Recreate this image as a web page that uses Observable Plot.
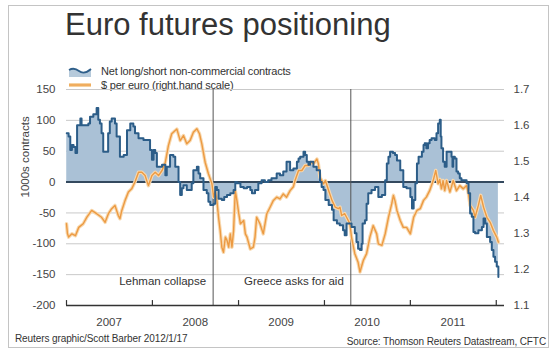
<!DOCTYPE html>
<html>
<head>
<meta charset="utf-8">
<script src="https://cdn.jsdelivr.net/npm/d3@7"></script>
<script src="https://cdn.jsdelivr.net/npm/@observablehq/plot@0.6"></script>
<style>
  body { margin: 0; background: #fff; font-family: "Liberation Sans", Arial, sans-serif; }
  #page { position: relative; width: 560px; height: 354px; overflow: hidden; }
  #frame { position: absolute; left: 8px; top: 5px; width: 541px; height: 343px; border: 1px solid #c4c4c4; box-sizing: border-box; }
  #title { position: absolute; left: 65px; top: 7px; font-size: 31px; color: #333; white-space: nowrap; }
  .leg { position: absolute; left: 68px; font-size: 11px; color: #333; white-space: nowrap; display: flex; align-items: center; letter-spacing: -0.2px; }
  .leg svg { margin-right: 9px; }
  #chart { position: absolute; left: 0; top: 80px; }
  .foot { position: absolute; font-size: 10px; color: #333; white-space: nowrap; letter-spacing: -0.1px; }
</style>
</head>
<body>
<div id="page">
  <div id="frame"></div>
  <div id="title">Euro futures positioning</div>
  <div class="leg" style="top:65px"><svg width="24" height="12"><path d="M1,5 Q6,2 11,6 T23,4 L23,12 L1,12 Z" fill="#b6cadb"/><path d="M1,5 Q6,2 11,6 T23,4" fill="none" stroke="#2f5f8a" stroke-width="1.8"/></svg><span>Net long/short non-commercial contracts</span></div>
  <div class="leg" style="top:79px"><svg width="24" height="12"><line x1="1" y1="6" x2="23" y2="6" stroke="#f6d2a0" stroke-width="4"/><line x1="1" y1="6" x2="23" y2="6" stroke="#eea04a" stroke-width="1.5"/></svg><span>$ per euro (right.hand scale)</span></div>
  <div id="chart"></div>
  <div class="foot" style="left:15px; top:333px">Reuters graphic/Scott Barber 2012/1/17</div>
  <div class="foot" style="right:14px; top:336px">Source: Thomson Reuters Datastream, CFTC</div>
</div>
<script>
// Net long/short non-commercial contracts (thousands)
const netDates = ["2007-01-02","2007-01-10","2007-01-17","2007-01-24","2007-01-31","2007-02-08","2007-02-15","2007-03-01","2007-03-06","2007-04-04","2007-04-11","2007-04-25","2007-05-09","2007-05-16","2007-05-23","2007-05-30","2007-06-06","2007-06-20","2007-06-27","2007-07-04","2007-07-12","2007-07-26","2007-08-02","2007-08-16","2007-09-01","2007-09-15","2007-09-29","2007-10-12","2007-10-19","2007-11-03","2007-11-24","2007-12-08","2007-12-22","2007-12-30","2008-01-06","2008-01-13","2008-01-20","2008-02-11","2008-02-25","2008-03-02","2008-03-16","2008-03-30","2008-04-07","2008-04-21","2008-04-28","2008-05-05","2008-05-12","2008-05-26","2008-06-09","2008-06-16","2008-06-23","2008-07-08","2008-07-15","2008-07-22","2008-08-05","2008-08-19","2008-08-26","2008-09-03","2008-09-17","2008-09-24","2008-10-01","2008-10-08","2008-10-22","2008-11-01","2008-11-13","2008-11-27","2008-12-11","2008-12-18","2008-12-25","2009-01-09","2009-01-23","2009-02-06","2009-02-20","2009-02-27","2009-03-12","2009-03-26","2009-04-09","2009-04-23","2009-05-07","2009-05-21","2009-06-12","2009-06-26","2009-07-10","2009-07-24","2009-08-08","2009-08-22","2009-09-06","2009-09-13","2009-09-20","2009-10-04","2009-10-11","2009-10-18","2009-10-25","2009-11-01","2009-11-15","2009-11-29","2009-12-13","2009-12-20","2009-12-28","2010-01-05","2010-01-19","2010-02-02","2010-02-09","2010-02-23","2010-03-07","2010-03-21","2010-03-28","2010-04-05","2010-04-19","2010-04-26","2010-05-10","2010-05-17","2010-05-24","2010-06-01","2010-06-08","2010-06-12","2010-06-22","2010-06-29","2010-07-06","2010-07-20","2010-08-04","2010-08-18","2010-09-02","2010-09-16","2010-09-23","2010-09-30","2010-10-07","2010-10-19","2010-10-28","2010-11-05","2010-11-19","2010-12-02","2010-12-16","2011-01-01","2011-01-08","2011-01-15","2011-01-22","2011-01-29","2011-02-05","2011-02-19","2011-02-26","2011-03-03","2011-03-10","2011-03-17","2011-03-24","2011-04-01","2011-04-15","2011-04-22","2011-04-29","2011-05-06","2011-05-10","2011-05-13","2011-05-20","2011-05-27","2011-06-04","2011-06-18","2011-06-25","2011-06-29","2011-07-02","2011-07-09","2011-07-16","2011-07-23","2011-07-30","2011-08-06","2011-08-28","2011-09-05","2011-09-12","2011-09-19","2011-09-26","2011-10-03","2011-10-17","2011-11-01","2011-11-08","2011-11-15","2011-11-22","2011-12-06","2011-12-13","2011-12-20","2011-12-27","2012-01-03","2012-01-10"];
const netValues = [79,74,52,60,57,47,92,103,92,95,106,110,120,101,95,79,49,49,79,98,103,95,74,41,44,84,95,90,79,71,68,68,52,36,52,47,25,28,11,25,44,41,25,0,-21,-10,-5,-13,-13,-2,19,25,14,6,-13,-18,-32,-37,-35,-8,-13,-27,-29,-24,-21,-18,-13,0,-2,-8,-10,-8,-13,-18,-13,-2,3,0,3,6,14,11,17,33,19,22,33,38,41,49,44,33,28,33,25,19,0,-8,-13,-29,-37,-45,-62,-67,-70,-78,-86,-67,-67,-73,-83,-97,-108,-110,-100,-67,-62,-35,-18,-13,-8,-24,-21,3,30,41,49,47,44,35,19,-8,-10,-24,-43,-29,-2,30,41,49,60,63,55,63,68,71,68,79,95,101,74,55,33,25,49,49,41,25,41,38,17,14,6,3,-2,-18,-51,-56,-81,-83,-78,-73,-59,-67,-89,-97,-110,-121,-129,-137,-154];

// $ per euro (right-hand scale)
const fxDates = ["2007-01-01","2007-01-05","2007-01-10","2007-01-24","2007-02-08","2007-02-22","2007-03-13","2007-03-28","2007-04-18","2007-05-09","2007-05-30","2007-06-14","2007-06-28","2007-07-12","2007-07-26","2007-08-09","2007-08-16","2007-08-24","2007-09-07","2007-09-21","2007-10-05","2007-10-19","2007-11-03","2007-11-17","2007-12-01","2007-12-15","2007-12-30","2008-01-13","2008-01-27","2008-02-11","2008-02-25","2008-03-09","2008-03-23","2008-04-07","2008-04-14","2008-04-28","2008-05-12","2008-05-26","2008-06-09","2008-06-23","2008-07-08","2008-07-19","2008-07-29","2008-08-12","2008-08-26","2008-09-10","2008-09-17","2008-09-24","2008-10-01","2008-10-08","2008-10-15","2008-10-22","2008-10-29","2008-11-06","2008-11-13","2008-11-20","2008-11-27","2008-12-04","2008-12-11","2008-12-18","2008-12-25","2009-01-02","2009-01-09","2009-01-23","2009-01-30","2009-02-06","2009-02-14","2009-02-20","2009-03-05","2009-03-12","2009-03-19","2009-04-02","2009-04-16","2009-05-01","2009-05-15","2009-05-29","2009-06-12","2009-06-26","2009-07-10","2009-07-24","2009-08-08","2009-08-22","2009-08-29","2009-09-13","2009-09-27","2009-10-11","2009-10-25","2009-11-02","2009-11-16","2009-11-30","2009-12-06","2009-12-13","2009-12-28","2010-01-05","2010-01-19","2010-02-02","2010-02-16","2010-03-01","2010-03-08","2010-03-15","2010-03-28","2010-04-05","2010-04-19","2010-04-26","2010-05-10","2010-05-24","2010-06-01","2010-06-15","2010-06-29","2010-07-13","2010-07-27","2010-08-11","2010-08-18","2010-09-02","2010-09-16","2010-09-30","2010-10-14","2010-10-21","2010-10-28","2010-11-05","2010-11-19","2010-12-02","2010-12-16","2011-01-01","2011-01-15","2011-01-29","2011-02-12","2011-02-26","2011-03-10","2011-03-24","2011-04-08","2011-04-19","2011-04-29","2011-05-06","2011-05-13","2011-05-20","2011-05-27","2011-06-04","2011-06-18","2011-07-02","2011-07-16","2011-07-30","2011-08-14","2011-08-28","2011-09-05","2011-09-12","2011-09-26","2011-10-03","2011-10-17","2011-10-27","2011-11-08","2011-11-22","2011-12-06","2011-12-20","2012-01-03","2012-01-10"];
const fxValues = [1.327,1.300,1.290,1.299,1.294,1.317,1.327,1.345,1.364,1.355,1.345,1.331,1.355,1.369,1.378,1.350,1.341,1.364,1.392,1.415,1.424,1.443,1.470,1.470,1.461,1.433,1.461,1.470,1.461,1.475,1.498,1.544,1.577,1.586,1.590,1.558,1.572,1.549,1.558,1.581,1.591,1.577,1.549,1.498,1.466,1.438,1.401,1.419,1.392,1.345,1.308,1.262,1.248,1.290,1.281,1.262,1.299,1.262,1.308,1.419,1.392,1.355,1.327,1.336,1.299,1.290,1.271,1.257,1.262,1.290,1.345,1.327,1.299,1.355,1.373,1.392,1.401,1.396,1.410,1.401,1.419,1.430,1.447,1.475,1.475,1.489,1.489,1.498,1.494,1.507,1.494,1.456,1.438,1.447,1.419,1.392,1.373,1.369,1.373,1.350,1.355,1.345,1.327,1.290,1.244,1.220,1.193,1.225,1.244,1.290,1.322,1.299,1.271,1.267,1.299,1.345,1.383,1.406,1.390,1.364,1.336,1.317,1.317,1.299,1.345,1.364,1.369,1.392,1.401,1.419,1.447,1.475,1.438,1.450,1.424,1.447,1.419,1.447,1.415,1.447,1.419,1.433,1.424,1.433,1.410,1.378,1.364,1.345,1.378,1.406,1.373,1.345,1.331,1.308,1.290,1.276];

// Axes / labels
const netTicks = [150, 100, 50, 0, -50, -100, -150, -200];
const fxTicks = [1.7, 1.6, 1.5, 1.4, 1.3, 1.2, 1.1];
const yearLabels = [2007, 2008, 2009, 2010, 2011];
const yearBounds = ["2007-01-01","2008-01-01","2009-01-01","2010-01-01","2011-01-01","2012-01-01"];
const events = [{date: "2008-09-15", label: "Lehman collapse"}, {date: "2010-04-23", label: "Greece asks for aid"}];

const netMin = -200, netMax = 150, fxMin = 1.1, fxMax = 1.7;
const fxToNet = p => netMin + (p - fxMin) / (fxMax - fxMin) * (netMax - netMin);
const netToFx = v => fxMin + (v - netMin) / (netMax - netMin) * (fxMax - fxMin);

const net = netDates.map((d, i) => ({date: new Date(d), v: netValues[i]}));
const fx = fxDates.map((d, i) => ({date: new Date(d), v: fxToNet(fxValues[i])}));
const gridTicks = netTicks.filter(t => t !== 0 && t !== netMin);

const chart = Plot.plot({
  width: 560,
  height: 250,
  marginLeft: 66,
  marginRight: 56,
  marginTop: 9,
  marginBottom: 25,
  style: {fontFamily: "Liberation Sans, Arial, sans-serif", fontSize: "11.5px", color: "#444", background: "transparent"},
  x: {type: "utc", domain: [new Date("2007-01-01"), new Date("2012-02-05")], axis: null},
  y: {domain: [netMin, netMax]},
  marks: [
    Plot.ruleY(gridTicks, {stroke: "#c9c9c9", strokeWidth: 1}),
    Plot.areaY(net, {x: "date", y: "v", curve: "step-after", fill: "#aac1d6"}),
    Plot.ruleY([0], {stroke: "#34495e", strokeWidth: 2}),
    Plot.ruleX(events, {x: d => new Date(d.date), y1: netMin, y2: netMax, stroke: "#555", strokeWidth: 1}),
    Plot.lineY(fx, {x: "date", y: "v", stroke: "#f8d9b0", strokeWidth: 3.5, strokeLinejoin: "round"}),
    Plot.lineY(fx, {x: "date", y: "v", stroke: "#ec9a42", strokeWidth: 1.4, strokeLinejoin: "round"}),
    Plot.lineY(net, {x: "date", y: "v", curve: "step-after", stroke: "#2c5d88", strokeWidth: 2}),
    Plot.ruleY([netMin], {stroke: "#333", strokeWidth: 1.3}),
    Plot.ruleX(yearBounds, {x: d => new Date(d), y1: netMin, y2: netMin + 8, stroke: "#333", strokeWidth: 1.2}),
    Plot.text(yearLabels, {x: d => new Date(Date.UTC(d, 6, 1)), y: netMin, dy: 17, text: d => String(d), fill: "#444", fontSize: 11.5}),
    Plot.text(events, {x: d => new Date(d.date), y: -160, text: "label", textAnchor: "end", dx: -7, fill: "#333", fontSize: 11.5}),
    Plot.axisY(netTicks, {anchor: "left", tickSize: 0, tickPadding: 11, label: null, tickFormat: d => String(d), fill: "#444"}),
    Plot.axisY(fxTicks.map(fxToNet), {anchor: "right", tickSize: 0, tickPadding: 9, label: null, tickFormat: d => netToFx(d).toFixed(1), fill: "#444"}),
    Plot.text(["1000s contracts"], {frameAnchor: "left", rotate: -90, dx: -41, fill: "#444", fontSize: 11.5})
  ]
});
document.getElementById("chart").appendChild(chart);
</script>
</body>
</html>
